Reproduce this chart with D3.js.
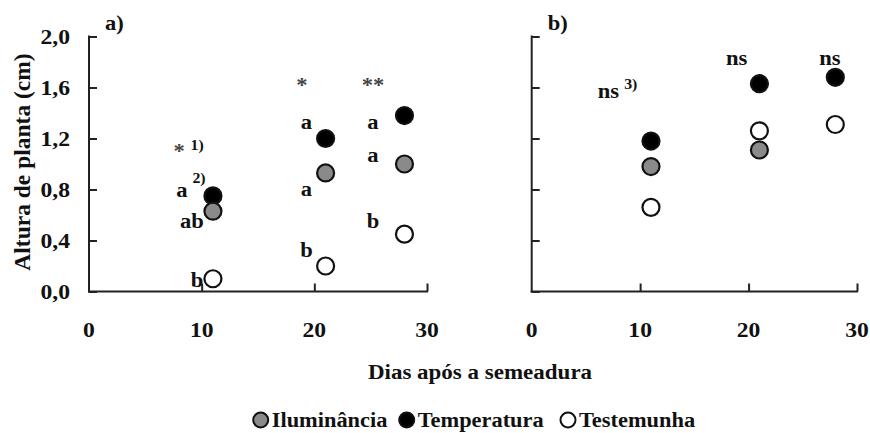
<!DOCTYPE html>
<html>
<head>
<meta charset="utf-8">
<script src="https://cdn.jsdelivr.net/npm/d3@7"></script>
<style>
  body { margin: 0; background: #fff; }
  svg text { font-family: "Liberation Serif", "Times New Roman", "DejaVu Serif", serif; font-weight: bold; fill: #111; }
</style>
</head>
<body>
<svg id="chart" width="870" height="433"></svg>
<script>
// days after sowing
var days = [11, 21, 28]
var seriesNames = ["Iluminância", "Temperatura", "Testemunha"]
var seriesFills = ["#8a8a8a", "#000", "#fff"]

// panel a) plant height (cm)
var aIlum = [0.63, 0.93, 1.0]
var aTemp = [0.75, 1.2, 1.38]
var aTest = [0.10, 0.20, 0.45]

// panel b) plant height (cm)
var bIlum = [0.98, 1.11, null]
var bTemp = [1.18, 1.63, 1.68]
var bTest = [0.66, 1.26, 1.31]

var yTicks = [0, 0.4, 0.8, 1.2, 1.6, 2.0]
var xTicks = [0, 10, 20, 30]

// annotation text placed in data units (day, height)
var aNotes = [
  {t: "*", d: 8.0, v: 1.10}, {t: "1)", d: 9.6, v: 1.15, sup: true},
  {t: "a", d: 8.25, v: 0.795}, {t: "2)", d: 9.76, v: 0.89, sup: true},
  {t: "ab", d: 9.14, v: 0.55}, {t: "b", d: 9.6, v: 0.094},
  {t: "*", d: 18.9, v: 1.62}, {t: "a", d: 19.3, v: 1.33},
  {t: "a", d: 19.3, v: 0.805}, {t: "b", d: 19.3, v: 0.324},
  {t: "**", d: 25.2, v: 1.62}, {t: "a", d: 25.2, v: 1.33},
  {t: "a", d: 25.2, v: 1.067}, {t: "b", d: 25.2, v: 0.55}
]
var bNotes = [
  {t: "ns", d: 7.07, v: 1.57}, {t: "3)", d: 9.14, v: 1.63, sup: true},
  {t: "ns", d: 18.9, v: 1.83}, {t: "ns", d: 27.5, v: 1.83}
]

var svg = d3.select("#chart")
var plotTop = 36.5, plotBottom = 291.5
var stretch = 1.13  // the figure's lettering is a little wide

// position a text via transform so it can be stretched sideways around its anchor
function place(sel, fx, fy, sx) {
  sel.attr("transform", function(d, i) {
    return "translate(" + fx(d, i) + "," + fy(d, i) + ") scale(" + sx + ",1)"
  })
}

function drawPanel(left, right, label, ilum, temp, test, notes, showYLabels) {
  var x = d3.scaleLinear().domain([0, 30]).range([left, right])
  var y = d3.scaleLinear().domain([0, 2]).range([plotBottom, plotTop])
  var g = svg.append("g")

  // axes, ticks pointing inward
  var yAxis = d3.axisRight(y).tickValues(yTicks).tickSize(8).tickFormat("")
  var xAxis = d3.axisTop(x).tickValues(xTicks.slice(1)).tickSize(8).tickFormat("")
  g.append("g").attr("transform", "translate(" + left + ",0)").call(yAxis)
  g.append("g").attr("transform", "translate(0," + plotBottom + ")").call(xAxis)
  g.selectAll(".domain").remove()
  g.selectAll(".tick line").attr("stroke", "#222").attr("stroke-width", 2)
  g.append("line").attr("x1", left).attr("x2", left).attr("y1", plotTop - 1).attr("y2", plotBottom + 1)
    .attr("stroke", "#222").attr("stroke-width", 2)
  g.append("line").attr("x1", left - 1).attr("x2", right + 1).attr("y1", plotBottom).attr("y2", plotBottom)
    .attr("stroke", "#222").attr("stroke-width", 2)

  // x tick labels sit well below the axis
  var xl = g.selectAll(".xlab").data(xTicks).enter().append("text")
    .attr("text-anchor", "middle")
    .attr("font-size", 20)
    .text(function(d) { return d })
  place(xl, function(d) { return x(d) }, function() { return 337 }, 1.18)

  if (showYLabels) {
    var yl = g.selectAll(".ylab").data(yTicks).enter().append("text")
      .attr("dy", "0.35em")
      .attr("text-anchor", "end")
      .attr("font-size", 20)
      .text(function(d) { return d3.format(".1f")(d).replace(".", ",") })
    place(yl, function() { return left - 19 }, function(d) { return y(d) }, 1.18)
  }

  var lab = g.append("text").datum(label).attr("font-size", 20).text(label)
  place(lab, function() { return left + 16 }, function() { return 30 }, stretch)

  // temperatura first so the grey marker overlaps it, as in the figure
  var series = [
    {vals: temp, fill: seriesFills[1]},
    {vals: ilum, fill: seriesFills[0]},
    {vals: test, fill: seriesFills[2]}
  ]
  series.forEach(function(s) {
    g.selectAll(null).data(days.map(function(d, i) { return {d: d, v: s.vals[i]} })
        .filter(function(p) { return p.v != null }))
      .enter().append("circle")
      .attr("cx", function(p) { return x(p.d) })
      .attr("cy", function(p) { return y(p.v) })
      .attr("r", 8.5)
      .attr("fill", s.fill)
      .attr("stroke", "#111")
      .attr("stroke-width", 2.2)
  })

  var nt = g.selectAll(".note").data(notes).enter().append("text")
    .attr("dy", "0.35em")
    .attr("text-anchor", "middle")
    .attr("font-size", function(n) { return n.sup ? 14 : 20 })
    .style("fill", function(n) { return n.t.indexOf("*") >= 0 ? "#444" : "#111" })
    .text(function(n) { return n.t })
  place(nt, function(n) { return x(n.d) }, function(n) { return y(n.v) }, stretch)
}

drawPanel(89, 427, "a)", aIlum, aTemp, aTest, aNotes, true)
drawPanel(531.7, 857, "b)", bIlum, bTemp, bTest, bNotes, false)

// axis titles
svg.append("text")
  .attr("transform", "translate(22,162) rotate(-90)")
  .attr("dy", "0.35em")
  .attr("text-anchor", "middle")
  .attr("font-size", 23.5)
  .text("Altura de planta (cm)")

var xt = svg.append("text").datum(0)
  .attr("dy", "0.35em")
  .attr("text-anchor", "middle")
  .attr("font-size", 20)
  .text("Dias após a semeadura")
place(xt, function() { return 480 }, function() { return 372 }, 1.15)

// legend
var legendX = [260.7, 406.7, 568]
var legend = svg.selectAll(".legend").data(seriesNames).enter().append("g")
  .attr("transform", function(d, i) { return "translate(" + legendX[i] + ",420)" })
legend.append("circle")
  .attr("r", 7.5)
  .attr("fill", function(d, i) { return seriesFills[i] })
  .attr("stroke", "#111")
  .attr("stroke-width", 2)
var lt = legend.append("text")
  .attr("dy", "0.35em")
  .attr("font-size", 20)
  .text(function(d) { return d })
place(lt, function() { return 11 }, function() { return 0 }, 1.12)
</script>
</body>
</html>
